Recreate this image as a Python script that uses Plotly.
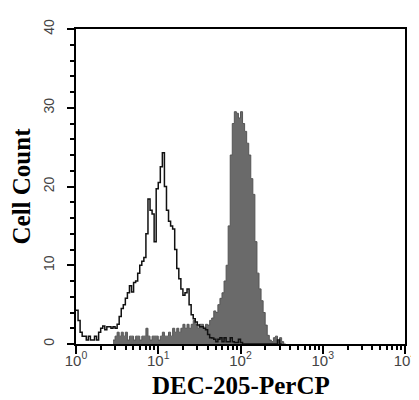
import plotly.graph_objects as go

# Histogram bins in log10 units (bin width 0.025 decades)
BIN_WIDTH = 0.025

# Open (black line) histogram: isotype control, starts at log10 = 0.0
control_start = 0.0
control_counts = [
    4.3, 3.0, 1.5, 1.0, 1.0, 0.5, 1.0, 0.5, 0.5, 1.0,
    0.5, 1.5, 2.0, 2.3, 1.8, 2.2, 2.2, 2.0, 2.2, 2.0,
    2.5, 3.5, 4.5, 5.0, 5.8, 6.5, 7.4, 6.6, 7.8, 8.0,
    9.0, 10.0, 10.5, 11.0, 14.0, 18.4, 17.0, 16.5, 13.0, 19.7,
    20.5, 22.5, 24.3, 20.0, 17.0, 15.6, 15.0, 14.6, 12.0, 9.6,
    8.3, 7.0, 6.2, 6.5, 7.0, 5.0, 3.7, 3.2, 2.8, 2.4,
    2.2, 2.2, 2.0, 1.8, 1.2, 0.8, 0.75, 0.6, 0.3, 0.6,
    0.8, 0.3, 0.8, 0.3, 0.3, 0.8, 0.3, 0.2, 0.2, 0.6,
    0.2, 0.0, 0.0, 0.0, 0.0, 0.0, 0.0, 0.0, 0.0, 0.0,
    0.0, 0.0, 0.0, 0.0, 0.0, 0.0, 0.0, 0.0, 0.5, 0.0,
    0.0,
]

# Filled (gray) histogram: DEC-205 stained, starts at log10 = 0.45
stained_start = 0.45
stained_counts = [
    0.5, 1.0, 1.5, 1.0, 1.5, 1.0, 1.5, 0.5, 1.0, 1.0,
    0.5, 1.0, 1.0, 0.5, 1.0, 1.0, 2.0, 1.0, 0.5, 1.0,
    1.0, 1.0, 0.5, 1.0, 1.5, 1.0, 1.0, 1.5, 1.0, 2.0,
    1.5, 2.0, 1.5, 2.0, 2.5, 2.0, 2.5, 2.0, 2.5, 3.0,
    2.5, 2.0, 2.5, 2.5, 2.0, 2.5, 2.4, 3.0, 3.3, 4.2,
    4.0, 5.0, 5.8, 6.5, 8.0, 10.0, 15.0, 24.0, 28.0, 29.5,
    29.3, 28.7, 29.5, 28.0, 27.0, 25.5, 24.0, 21.0, 19.0, 13.0,
    9.0, 7.0, 5.5, 4.0, 2.4, 1.1, 0.5, 0.3, 0.8, 1.0,
    0.3, 0.8, 0.3, 0.0, 0.0,
]

x_tickvals = [1, 10, 100, 1000, 10000]
x_ticktext = ["10<sup>0</sup>", "10<sup>1</sup>", "10<sup>2</sup>", "10<sup>3</sup>", "10<sup>4</sup>"]
y_tickvals = [0, 10, 20, 30, 40]
x_title = "DEC-205-PerCP"
y_title = "Cell Count"


def to_x(start, n):
    return [10 ** (start + i * BIN_WIDTH) for i in range(n)]


fig = go.Figure()
fig.add_trace(go.Scatter(
    x=to_x(stained_start, len(stained_counts)), y=stained_counts,
    mode="lines", line=dict(shape="hv", color="#555555", width=1),
    fill="tozeroy", fillcolor="#6a6a6a", showlegend=False,
))
fig.add_trace(go.Scatter(
    x=to_x(control_start, len(control_counts)), y=control_counts,
    mode="lines", line=dict(shape="hv", color="#111111", width=1.5),
    showlegend=False,
))

fig.update_layout(
    width=419, height=400,
    margin=dict(l=67, r=11, t=19, b=64),
    paper_bgcolor="white", plot_bgcolor="white",
    font=dict(family="Liberation Sans, Arial", color="#444444"),
    annotations=[dict(
        text="<b>" + x_title + "</b>", xref="paper", yref="paper",
        x=0.5, y=-0.133, xanchor="center", yanchor="middle", showarrow=False,
        font=dict(family="Liberation Serif, Times New Roman", size=25, color="black"),
    )],
)
fig.update_xaxes(
    type="log", range=[0, 4],
    tickvals=x_tickvals, ticktext=x_ticktext,
    tickfont=dict(size=15, color="#444444"),
    ticks="outside", ticklen=8, tickcolor="black", tickwidth=1.5,
    ticklabelstandoff=-6,
    minor=dict(ticks="outside", ticklen=4, tickcolor="black", dtick="D1", showgrid=False),
    showline=True, linecolor="black", linewidth=1.5, mirror=True,
    showgrid=False, zeroline=False,
)
fig.update_yaxes(
    range=[0, 40],
    tickvals=y_tickvals, tickangle=-90,
    tickfont=dict(size=14, color="#444444"),
    ticks="outside", ticklen=7, tickcolor="black", tickwidth=1.5,
    ticklabelstandoff=8,
    minor=dict(ticks="outside", ticklen=4, tickcolor="black", dtick=2, showgrid=False),
    showline=True, linecolor="black", linewidth=1.5, mirror=True,
    showgrid=False, zeroline=False,
    title=dict(text="<b>" + y_title + "</b>",
               font=dict(family="Liberation Serif, Times New Roman", size=25, color="black"),
               standoff=4),
)

fig.write_html("out.html")
